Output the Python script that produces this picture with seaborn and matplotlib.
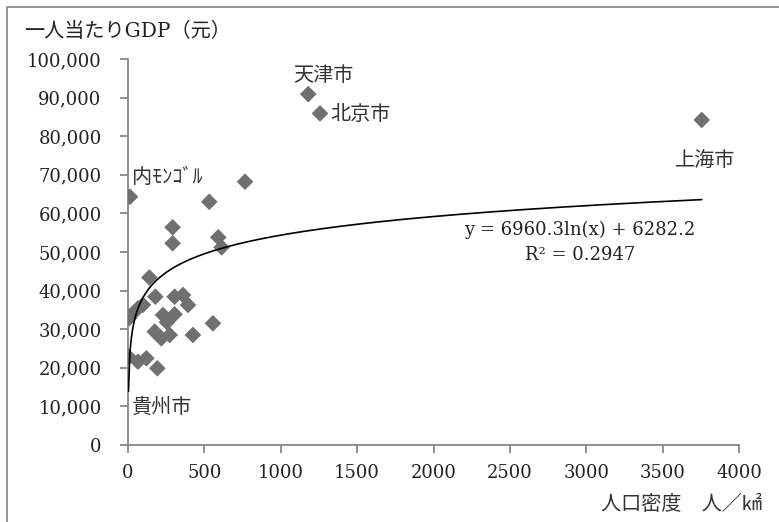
import numpy as np
import pandas as pd
import seaborn as sns
import matplotlib.pyplot as plt
from matplotlib.patches import Rectangle
from matplotlib.ticker import FuncFormatter

# population density (people / km2) and GDP per capita (yuan), by province
province = ['北京', '天津', '上海', '内モンゴル', '江蘇', '浙江', '遼寧', '福建',
            '広東', '山東', '吉林', '陝西', '湖北', '重慶', '河北', '黒竜江',
            '寧夏', '新疆', '青海', '山西', '湖南', '海南', '河南', '四川',
            '広西', '江西', '安徽', 'チベット', '甘粛', '雲南', '貴州']
density = [1257, 1180, 3756, 13, 766, 532, 292, 292,
           591, 613, 140, 179, 305, 360, 393, 65,
           98, 13, 8, 229, 305, 255, 556, 175,
           218, 273, 425, 3, 65, 120, 192]
gdp = [85900, 90900, 84200, 64300, 68200, 63000, 56400, 52250,
       53800, 51200, 43400, 38420, 38420, 38860, 36270, 35400,
       36300, 33400, 32900, 33680, 33860, 31800, 31520, 29360,
       27640, 28500, 28500, 22880, 21580, 22460, 19870]

# logarithmic trendline shown on the chart
coef_a = 6960.3
coef_b = 6282.2
r2 = 0.2947

df = pd.DataFrame({'province': province, 'density': density, 'gdp': gdp})

sns.set_style('white')
plt.rcParams['font.family'] = ['DejaVu Serif', 'Noto Sans CJK JP']

fig = plt.figure(figsize=(7.79, 5.22), dpi=100)
ax = fig.add_axes([128 / 779, 77 / 522, 611 / 779, 386 / 522])

sns.scatterplot(data=df, x='density', y='gdp', marker='D', s=72,
                color='#707070', edgecolor='none', ax=ax, zorder=3)

xs = np.linspace(df['density'].min(), df['density'].max(), 400)
trend = pd.DataFrame({'x': xs, 'y': coef_a * np.log(xs) + coef_b})
sns.lineplot(data=trend, x='x', y='y', color='black', linewidth=1.2, ax=ax, zorder=4)

ax.set_xlim(0, 4000)
ax.set_ylim(0, 100000)
ax.set_xticks(range(0, 4001, 500))
ax.set_yticks(range(0, 100001, 10000))
ax.yaxis.set_major_formatter(FuncFormatter(lambda v, p: f'{int(v):,}'))
ax.set_xlabel('')
ax.set_ylabel('')

for s in ['top', 'right']:
    ax.spines[s].set_visible(False)
for s in ['left', 'bottom']:
    ax.spines[s].set_color('#878787')
    ax.spines[s].set_linewidth(1.3)
ax.tick_params(axis='both', direction='out', length=6, width=1.3, color='#878787',
               labelsize=13, labelcolor='#222222')
ax.tick_params(axis='y', pad=13)
ax.tick_params(axis='x', pad=8, bottom=True)
ax.tick_params(axis='y', left=True)

jp = ['Noto Sans CJK JP', 'DejaVu Sans']
lab_kw = dict(fontsize=14.5, color='#333333', family=jp, va='center')
ax.text(1080, 95600, '天津市', ha='left', **lab_kw)
ax.text(1322, 85500, '北京市', ha='left', **lab_kw)
ax.text(3780, 73800, '上海市', ha='center', **lab_kw)
ax.text(26, 69200, '内ﾓﾝｺﾞﾙ', ha='left', **lab_kw)
ax.text(26, 9600, '貴州市', ha='left', **lab_kw)

ax.text(2960, 55700, f'y = {coef_a}ln(x) + {coef_b}', ha='center', va='center',
        fontsize=13, color='#222222')
ax.text(2960, 49200, f'R² = {r2}', ha='center', va='center',
        fontsize=13, color='#222222')

fig.text(24 / 779, 1 - 31 / 522, '一人当たりGDP（元）', ha='left', va='center',
         fontsize=14.5, color='#222222')
fig.text(762 / 779, 1 - 505 / 522, '人口密度　人／㎢', ha='right', va='center',
         fontsize=14.5, color='#333333', family=jp)

fig.patches.append(Rectangle((7 / 779, -0.2), 1.5, 0.2 + 1 - 7 / 522,
                             transform=fig.transFigure, fill=False,
                             edgecolor='#8c8c8c', linewidth=1.3))

fig.savefig('out.png', dpi=100)
